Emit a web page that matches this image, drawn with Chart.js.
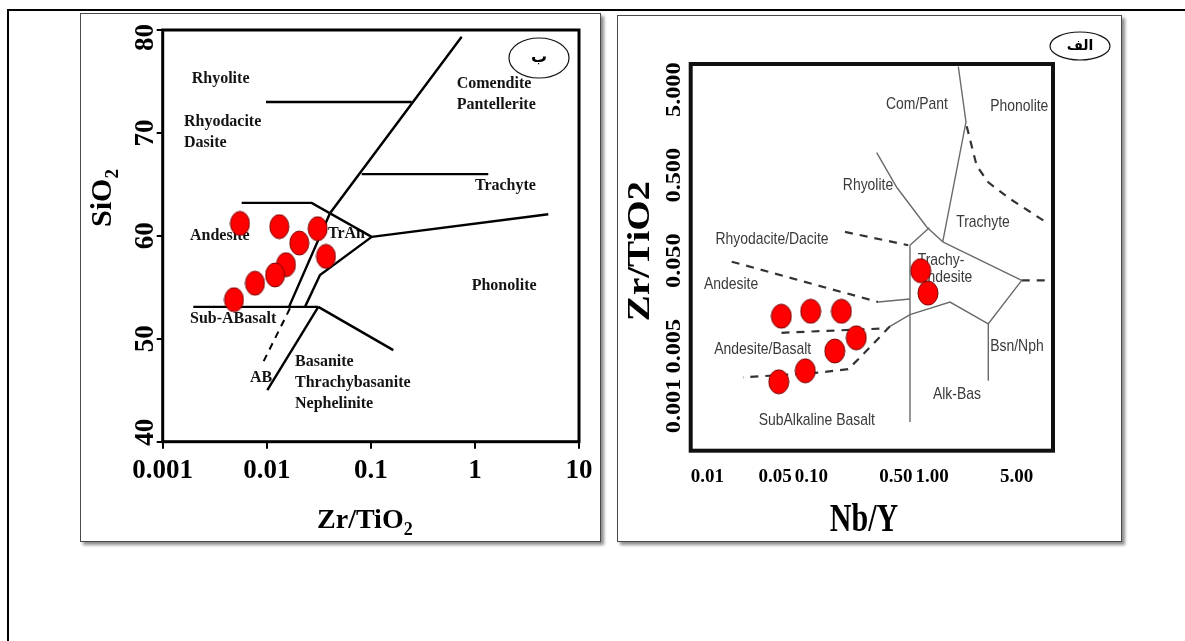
<!DOCTYPE html>
<html>
<head>
<meta charset="utf-8">
<script src="https://cdn.jsdelivr.net/npm/chart.js@4/dist/chart.umd.min.js"></script>
<style>
html, body { margin: 0; padding: 0; background: #fff; }
body { width: 1185px; height: 641px; position: relative; overflow: hidden; }
.frame { position: absolute; left: 7px; top: 9px; width: 1300px; height: 700px; border-top: 2px solid #000; border-left: 2px solid #000; }
.panel { position: absolute; background: #fff; border: 1px solid #4a4a4a; box-shadow: 3px 3px 3px rgba(0,0,0,0.45); }
#p1 { left: 80px; top: 13px; width: 519px; height: 527px; }
#p2 { left: 617px; top: 15px; width: 503px; height: 525px; }
canvas { display: block; }
</style>
</head>
<body>
<div class="frame"></div>
<div class="panel" id="p1"><canvas id="c1" width="519" height="527"></canvas></div>
<div class="panel" id="p2"><canvas id="c2" width="503" height="525"></canvas></div>
<script>
// ---------- SiO2 vs Zr/TiO2 diagram (panel ب) ----------
const siSampleZrTi = [0.00553, 0.01319, 0.03084, 0.02054, 0.03707, 0.01530, 0.01200, 0.00770, 0.00484];
const siSampleSiO2 = [61.2, 60.9, 60.7, 59.3, 58.0, 57.2, 56.2, 55.4, 53.8];

const siXTicks = [0.001, 0.01, 0.1, 1, 10];
const siXTickLabels = ['0.001', '0.01', '0.1', '1', '10'];
const siYTicks = [40, 50, 60, 70, 80];
const siYTickLabels = ['40', '50', '60', '70', '80'];

// field boundaries, [Zr/TiO2, SiO2]
const siLineMain = [[0.746, 79.35], [0.0405, 62.2], [0.01635, 53.1]];
const siLineRhyolite = [[0.00983, 73.0], [0.247, 73.0]];
const siLineTrachyte = [[0.0817, 66.0], [1.344, 66.0]];
const siLineAndesiteTop = [[0.00574, 63.2], [0.0270, 63.2], [0.1019, 59.9]];
const siLinePhonolite = [[0.1019, 59.9], [5.07, 62.1]];
const siLineTrAnLow = [[0.1019, 59.9], [0.03246, 56.2], [0.0233, 53.1]];
const siLineSubAlk = [[0.001968, 53.1], [0.03126, 53.1]];
const siLineBasanite = [[0.03126, 53.1], [0.1643, 48.9]];
const siLineNeph = [[0.03126, 53.1], [0.01012, 45.0]];
const siLineAB = [[0.01671, 52.96], [0.00894, 47.45]];

const siFieldNames = ['Rhyolite', 'Rhyodacite', 'Dasite', 'Comendite', 'Pantellerite', 'Trachyte', 'Andesite', 'TrAn',
  'Phonolite', 'Sub-ABasalt', 'AB', 'Basanite', 'Thrachybasanite', 'Nephelinite'];
const siFieldZrTi = [0.0019, 0.0016, 0.0016, 0.668, 0.668, 1.0, 0.00183, 0.0387, 0.931, 0.00183, 0.0069, 0.01867, 0.01867, 0.01867];
const siFieldSiO2 = [75.3, 71.1, 69.0, 74.8, 72.7, 64.9, 60.0, 60.2, 55.1, 51.9, 46.2, 47.8, 45.7, 43.7];

// ---------- Zr/TiO2 vs Nb/Y diagram (panel الف) ----------
const nbSampleNbY = [0.803, 0.922, 0.0563, 0.0985, 0.177, 0.235, 0.156, 0.0889, 0.0536];
const nbSampleZrTi = [0.0383, 0.0209, 0.01122, 0.01282, 0.01282, 0.00628, 0.00440, 0.00258, 0.00192];

const nbXTicks = [0.01, 0.05, 0.1, 0.5, 1, 5, 10];
const nbXTickLabels = ['0.01', '0.05', '0.10', '0.50', '1.00', '5.00', ''];
const nbYTicks = [5, 0.5, 0.05, 0.005, 0.001];
const nbYTickLabels = ['5.000', '0.500', '0.050', '0.005', '0.001'];

// field boundaries, [Nb/Y, Zr/TiO2]
const nbLineComPant = [[1.644, 9.30], [1.903, 2.096], [1.221, 0.0832]];
const nbLineRhyolite = [[0.3468, 0.9204], [0.5078, 0.3614], [0.8997, 0.1242], [1.221, 0.0832]];
const nbLineTrAnTop = [[0.9456, 0.1219], [0.6541, 0.07596]];
const nbLineAlkBas = [[0.6541, 0.07596], [0.6541, 0.000649]];
const nbLineTrachyte = [[1.221, 0.0832], [5.505, 0.02942]];
const nbLineBsnNph = [[5.505, 0.02942], [2.912, 0.009134], [2.912, 0.001976]];
const nbLineTrAnLow = [[2.912, 0.009134], [1.403, 0.01643], [0.6541, 0.01171], [0.4470, 0.008543]];
const nbLineAndesiteCap = [[0.3576, 0.01643], [0.6541, 0.01781]];
const nbDashPhonolite = [[1.929, 1.873], [2.334, 0.6436], [2.912, 0.4130], [4.405, 0.2645], [8.311, 0.1481]];
const nbDashBsnEdge = [[5.505, 0.02942], [8.585, 0.02942]];
const nbDashRhyodacite = [[0.1895, 0.1086], [0.6336, 0.07596]];
const nbDashAndesite = [[0.02185, 0.04873], [0.3576, 0.01643]];
const nbDashAndBasalt = [[0.05646, 0.00718], [0.4197, 0.008098]];
const nbDashSubAlk = [[0.4470, 0.008543], [0.2428, 0.00349], [0.2007, 0.002694], [0.1177, 0.002467], [0.0271, 0.002158]];

const nbFieldNames = ['Com/Pant', 'Phonolite', 'Rhyolite', 'Trachyte', 'Rhyodacite/Dacite', 'Andesite', 'Trachy-', 'andesite',
  'Andesite/Basalt', 'Bsn/Nph', 'Alk-Bas', 'SubAlkaline Basalt'];
const nbFieldNbY = [0.7478, 5.259, 0.2938, 2.632, 0.04712, 0.02157, 1.182, 1.300, 0.03947, 5.03, 1.603, 0.1107];
const nbFieldZrTi = [3.345, 3.196, 0.3772, 0.1419, 0.08915, 0.02658, 0.05087, 0.03179, 0.004596, 0.005033, 0.001359, 0.000679];

// ---------- helpers ----------
function toXY(pairs) { return pairs.map(p => ({ x: p[0], y: p[1] })); }

function ellipseMarker(w, h) {
  const c = document.createElement('canvas');
  c.width = w + 2; c.height = h + 2;
  const g = c.getContext('2d');
  g.beginPath();
  g.ellipse(c.width / 2, c.height / 2, w / 2, h / 2, 0, 0, Math.PI * 2);
  g.fillStyle = '#ff0000';
  g.fill();
  g.lineWidth = 1;
  g.strokeStyle = '#760000';
  g.stroke();
  return c;
}

function lineSet(pairs, color, width, dash) {
  return {
    data: toXY(pairs), showLine: true, pointRadius: 0, borderColor: color, borderWidth: width,
    borderDash: dash || [], fill: false, tension: 0, order: 2
  };
}

function sampleSet(xs, ys, marker) {
  return {
    data: xs.map((v, i) => ({ x: v, y: ys[i] })), pointStyle: marker, pointRadius: 10,
    showLine: false, order: 0
  };
}

function textAlongY(ctx, parts, x, y, stretch) {
  // rotated (bottom-to-top) text built from [text, font, dy] pieces, centred on y
  ctx.save();
  ctx.translate(x, y);
  ctx.rotate(-Math.PI / 2);
  ctx.scale(stretch || 1, 1);
  let total = 0;
  parts.forEach(p => { ctx.font = p[1]; total += ctx.measureText(p[0]).width; });
  let cx = -total / 2;
  ctx.textAlign = 'left';
  ctx.textBaseline = 'alphabetic';
  parts.forEach(p => { ctx.font = p[1]; ctx.fillText(p[0], cx, p[2]); cx += ctx.measureText(p[0]).width; });
  ctx.restore();
}

function textAlongX(ctx, parts, cx, y, stretch) {
  ctx.save();
  ctx.translate(cx, y);
  ctx.scale(stretch || 1, 1);
  let total = 0;
  parts.forEach(p => { ctx.font = p[1]; total += ctx.measureText(p[0]).width; });
  let x = -total / 2;
  ctx.textAlign = 'left';
  ctx.textBaseline = 'alphabetic';
  parts.forEach(p => { ctx.font = p[1]; ctx.fillText(p[0], x, p[2]); x += ctx.measureText(p[0]).width; });
  ctx.restore();
}

function badge(ctx, cx, cy, rx, ry, label, font) {
  ctx.save();
  ctx.beginPath();
  ctx.ellipse(cx, cy, rx, ry, 0, 0, Math.PI * 2);
  ctx.lineWidth = 1.2;
  ctx.strokeStyle = '#111';
  ctx.stroke();
  ctx.fillStyle = '#000';
  ctx.font = font;
  ctx.textAlign = 'center';
  ctx.textBaseline = 'middle';
  ctx.fillText(label, cx, cy);
  ctx.restore();
}

const SERIF = '"Liberation Serif", "Times New Roman", serif';
const SANS = '"Liberation Sans", Arial, sans-serif';

// ---------- panel ب ----------
const siDecor = {
  id: 'siDecor',
  beforeDatasetsDraw(chart) {
    const { ctx, chartArea: a, scales: { x, y } } = chart;
    ctx.save();
    ctx.lineWidth = 3;
    ctx.strokeStyle = '#000';
    ctx.strokeRect(a.left, a.top, a.right - a.left, a.bottom - a.top);
    ctx.font = 'bold 16px ' + SERIF;
    ctx.fillStyle = '#141414';
    ctx.textAlign = 'left';
    ctx.textBaseline = 'middle';
    siFieldNames.forEach((t, i) => {
      ctx.fillText(t, x.getPixelForValue(siFieldZrTi[i]), y.getPixelForValue(siFieldSiO2[i]));
    });
    ctx.restore();
  },
  afterDraw(chart) {
    const { ctx, chartArea: a, scales: { y } } = chart;
    ctx.save();
    ctx.fillStyle = '#000';
    // rotated y tick labels
    ctx.font = 'bold 27px ' + SERIF;
    siYTicks.forEach((v, i) => {
      const lab = siYTickLabels[i];
      const w = ctx.measureText(lab).width;
      let cy = y.getPixelForValue(v);
      cy = Math.min(Math.max(cy, a.top + w / 2 - 6), a.bottom - w / 2 + 4);
      ctx.save();
      ctx.translate(a.left - 10, cy);
      ctx.rotate(-Math.PI / 2);
      ctx.textAlign = 'center';
      ctx.textBaseline = 'alphabetic';
      ctx.fillText(lab, 0, 0);
      ctx.restore();
    });
    // axis titles
    textAlongY(ctx, [['SiO', 'bold 30px ' + SERIF, 0], ['2', 'bold 19px ' + SERIF, 7]], a.left - 52, 184, 1);
    textAlongX(ctx, [['Zr/TiO', 'bold 28px ' + SERIF, 0], ['2', 'bold 18px ' + SERIF, 7]], (a.left + a.right) / 2 - 6, a.bottom + 86, 1);
    badge(ctx, 458, 44, 30, 20, 'ب', 'bold 16px "DejaVu Sans"');
    ctx.restore();
  }
};

new Chart(document.getElementById('c1'), {
  type: 'scatter',
  data: {
    datasets: [
      sampleSet(siSampleZrTi, siSampleSiO2, ellipseMarker(19, 24)),
      lineSet(siLineMain, '#000', 2.4),
      lineSet(siLineRhyolite, '#000', 2.4),
      lineSet(siLineTrachyte, '#000', 2.4),
      lineSet(siLineAndesiteTop, '#000', 2.4),
      lineSet(siLinePhonolite, '#000', 2.4),
      lineSet(siLineTrAnLow, '#000', 2.4),
      lineSet(siLineSubAlk, '#000', 2.4),
      lineSet(siLineBasanite, '#000', 2.4),
      lineSet(siLineNeph, '#000', 2.4),
      lineSet(siLineAB, '#000', 2, [7, 6])
    ]
  },
  options: {
    responsive: false,
    animation: false,
    events: [],
    layout: { padding: { left: 81.7, top: 16, right: 21, bottom: 39.3 } },
    plugins: { legend: { display: false }, tooltip: { enabled: false } },
    scales: {
      x: {
        type: 'logarithmic', position: 'bottom', min: 0.001, max: 10,
        afterBuildTicks: s => { s.ticks = siXTicks.map(v => ({ value: v })); },
        afterFit: s => { s.height = 60; },
        ticks: {
          autoSkip: false, maxRotation: 0, minRotation: 0, padding: 6, color: '#000',
          font: { family: SERIF, size: 27, weight: 'bold' },
          callback: (v, i) => siXTickLabels[i]
        },
        grid: { drawOnChartArea: false, drawTicks: true, tickLength: 7, color: '#000', lineWidth: 2 },
        border: { display: false }
      },
      y: {
        type: 'linear', position: 'left', min: 40, max: 80,
        afterBuildTicks: s => { s.ticks = siYTicks.map(v => ({ value: v })); },
        afterFit: s => { s.width = 0; },
        ticks: { display: false },
        grid: { drawOnChartArea: false, drawTicks: true, tickLength: 6, color: '#000', lineWidth: 2 },
        border: { display: false }
      }
    }
  },
  plugins: [siDecor]
});

// ---------- panel الف ----------
const nbDecor = {
  id: 'nbDecor',
  beforeDatasetsDraw(chart) {
    const { ctx, chartArea: a, scales: { x, y } } = chart;
    ctx.save();
    ctx.lineWidth = 4;
    ctx.strokeStyle = '#111';
    ctx.strokeRect(a.left, a.top, a.right - a.left, a.bottom - a.top);
    ctx.fillStyle = '#3a3a3a';
    ctx.textAlign = 'center';
    ctx.textBaseline = 'middle';
    ctx.font = '17px ' + SANS;
    nbFieldNames.forEach((t, i) => {
      ctx.save();
      ctx.translate(x.getPixelForValue(nbFieldNbY[i]), y.getPixelForValue(nbFieldZrTi[i]));
      ctx.scale(0.82, 1);
      ctx.fillText(t, 0, 0);
      ctx.restore();
    });
    ctx.restore();
  },
  afterDraw(chart) {
    const { ctx, chartArea: a, scales: { y } } = chart;
    ctx.save();
    ctx.fillStyle = '#000';
    ctx.font = 'bold 22px ' + SERIF;
    nbYTicks.forEach((v, i) => {
      ctx.save();
      ctx.translate(a.left - 11, y.getPixelForValue(v));
      ctx.rotate(-Math.PI / 2);
      ctx.scale(1.1, 1);
      ctx.textAlign = 'center';
      ctx.textBaseline = 'alphabetic';
      ctx.fillText(nbYTickLabels[i], 0, 0);
      ctx.restore();
    });
    textAlongY(ctx, [['Zr/TiO2', 'bold 32px ' + SERIF, 0]], a.left - 42, 235, 1.22);
    textAlongX(ctx, [['Nb/Y', 'bold 40px ' + SERIF, 0]], 246, a.bottom + 80, 0.75);
    badge(ctx, 462, 30, 30, 14, 'الف', 'bold 14px "DejaVu Sans"');
    ctx.restore();
  }
};

new Chart(document.getElementById('c2'), {
  type: 'scatter',
  data: {
    datasets: [
      sampleSet(nbSampleNbY, nbSampleZrTi, ellipseMarker(20, 24)),
      lineSet(nbLineComPant, '#6a6a6a', 1.4),
      lineSet(nbLineRhyolite, '#6a6a6a', 1.4),
      lineSet(nbLineTrAnTop, '#6a6a6a', 1.4),
      lineSet(nbLineAlkBas, '#6a6a6a', 1.4),
      lineSet(nbLineTrachyte, '#6a6a6a', 1.4),
      lineSet(nbLineBsnNph, '#6a6a6a', 1.4),
      lineSet(nbLineTrAnLow, '#6a6a6a', 1.4),
      lineSet(nbLineAndesiteCap, '#6a6a6a', 1.4),
      lineSet(nbDashPhonolite, '#333', 2.2, [8, 7]),
      lineSet(nbDashBsnEdge, '#333', 2.2, [8, 7]),
      lineSet(nbDashRhyodacite, '#333', 2.2, [8, 7]),
      lineSet(nbDashAndesite, '#333', 2.2, [8, 7]),
      lineSet(nbDashAndBasalt, '#333', 2.2, [8, 7]),
      lineSet(nbDashSubAlk, '#333', 2.2, [8, 7])
    ]
  },
  options: {
    responsive: false,
    animation: false,
    events: [],
    layout: { padding: { left: 72.7, top: 48, right: 68, bottom: 40.3 } },
    plugins: { legend: { display: false }, tooltip: { enabled: false } },
    scales: {
      x: {
        type: 'logarithmic', position: 'bottom', min: 0.01, max: 10,
        afterBuildTicks: s => { s.ticks = nbXTicks.map(v => ({ value: v })); },
        afterFit: s => { s.height = 50; },
        ticks: {
          autoSkip: false, maxRotation: 0, minRotation: 0, padding: 15, align: 'inner', color: '#000',
          font: { family: SERIF, size: 19, weight: 'bold' },
          callback: (v, i) => nbXTickLabels[i]
        },
        grid: { display: false, drawTicks: false },
        border: { display: false }
      },
      y: {
        type: 'logarithmic', position: 'left', min: 0.000327, max: 10,
        afterBuildTicks: s => { s.ticks = nbYTicks.map(v => ({ value: v })); },
        afterFit: s => { s.width = 0; },
        ticks: { display: false },
        grid: { display: false },
        border: { display: false }
      }
    }
  },
  plugins: [nbDecor]
});
</script>
</body>
</html>
